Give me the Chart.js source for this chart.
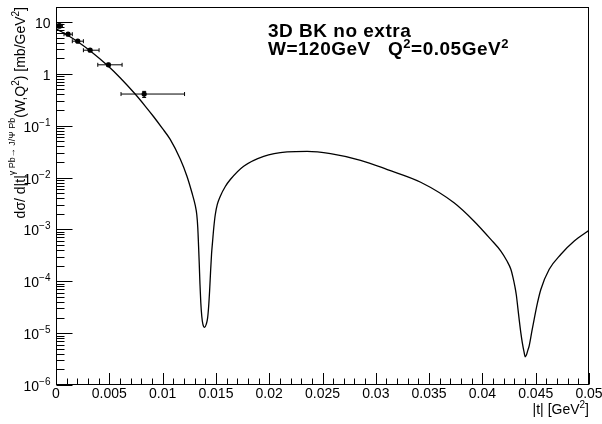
<!DOCTYPE html>
<html><head><meta charset="utf-8">
<script src="https://cdn.jsdelivr.net/npm/chart.js@4/dist/chart.umd.min.js"></script>
<style>html,body{margin:0;padding:0;background:#fff;overflow:hidden}canvas{display:block}</style>
</head><body>
<canvas id="c" width="602" height="424"></canvas>
<script>
// ---- data ----
const curveT = [0, 0.000564, 0.001128, 0.002039, 0.003195, 0.004915, 0.006015, 0.007425, 0.008365, 0.009145,
  0.009962, 0.010714, 0.011654, 0.012284, 0.012754, 0.013064, 0.013205, 0.013299, 0.013374, 0.01344,
  0.013506, 0.013581, 0.013675, 0.013778, 0.013938, 0.014098, 0.01422, 0.014314, 0.014408, 0.014502,
  0.014596, 0.01469, 0.014803, 0.014944, 0.015132, 0.015414, 0.015883, 0.016353, 0.017603, 0.019483,
  0.021682, 0.023562, 0.025752, 0.028571, 0.031081, 0.034211, 0.03734, 0.03922, 0.040789, 0.041729,
  0.042293, 0.042669, 0.042857, 0.043045, 0.043186, 0.043327, 0.043468, 0.043609, 0.04375, 0.043891,
  0.044013, 0.044126, 0.044267, 0.044389, 0.044643, 0.044859, 0.04516, 0.045489, 0.046269, 0.047368,
  0.048618, 0.05];
const curveV = [7.34, 6.38, 5.48, 4.16, 2.79, 1.394, 0.838, 0.407, 0.239, 0.1503,
  0.0895, 0.0543, 0.0227, 0.0106, 0.00508, 2.89e-3, 1.94e-3, 1.09e-3, 4.77e-4, 2.12e-4,
  8.76e-5, 3.95e-5, 2.12e-5, 1.49e-5, 1.29e-5, 1.49e-5, 1.94e-5, 3.16e-5, 6.42e-5, 1.56e-4,
  3.46e-4, 5.88e-4, 1.09e-3, 1.94e-3, 3.03e-3, 4.37e-3, 6.71e-3, 9.15e-3, 0.0165, 0.0257,
  0.0312, 0.0320, 0.0289, 0.0215, 0.01425, 0.00812, 0.00326, 0.00144, 6.42e-4, 3.82e-4,
  2.48e-4, 1.70e-4, 1.22e-4, 8.01e-5, 5.38e-5, 3.03e-5, 1.70e-5, 1.0e-5, 6.42e-6, 4.51e-6,
  3.49e-6, 3.77e-6, 4.71e-6, 5.70e-6, 1.09e-5, 1.86e-5, 3.78e-5, 7.02e-5, 1.70e-4, 3.31e-4,
  5.96e-4, 9.57e-4];

const dataT     = [0.00031, 0.00113, 0.00204, 0.0032, 0.00492, 0.00827];
const dataV     = [8.4, 5.8, 4.25, 2.85, 1.49, 0.407];
const dataTLow  = [0.00006, 0.00075, 0.00153, 0.00257, 0.00392, 0.0061];
const dataTHigh = [0.0006, 0.00153, 0.00257, 0.00404, 0.0062, 0.01206];
const dataVLow  = [7.6, 5.45, 4.0, 2.7, 1.40, 0.350];
const dataVHigh = [9.2, 6.2, 4.5, 3.0, 1.60, 0.458];

const xTickValues = [0, 0.005, 0.01, 0.015, 0.02, 0.025, 0.03, 0.035, 0.04, 0.045, 0.05];
const xTickLabels = ["0", "0.005", "0.01", "0.015", "0.02", "0.025", "0.03", "0.035", "0.04", "0.045", "0.05"];
const yDecades    = [1e-6, 1e-5, 1e-4, 1e-3, 1e-2, 1e-1, 1, 10];
const yTickBase   = ["10", "10", "10", "10", "10", "10", "1", "10"];
const yTickExp    = ["\u22126", "\u22125", "\u22124", "\u22123", "\u22122", "\u22121", "", ""];

const X_MIN = 0, X_MAX = 0.05, Y_MIN = 1e-6, Y_MAX = 19.4;

const FONT = "'Liberation Sans', Arial, Helvetica, sans-serif";

function runsWidth(ctx, runs) {
  let w = 0;
  for (const r of runs) { ctx.font = (r.bold ? 'bold ' : '') + r.size + 'px ' + FONT; w += ctx.measureText(r.t).width; }
  return w;
}
function drawRuns(ctx, runs, x, y) {
  let cx = x;
  for (const r of runs) {
    ctx.font = (r.bold ? 'bold ' : '') + r.size + 'px ' + FONT;
    ctx.fillText(r.t, cx, y - (r.dy || 0));
    cx += ctx.measureText(r.t).width;
  }
}

const rootAxes = {
  id: 'rootAxes',
  afterDatasetsDraw(chart) {
    const ctx = chart.ctx, ax = chart.scales.x, ay = chart.scales.y, ca = chart.chartArea;
    ctx.save();
    ctx.strokeStyle = '#000'; ctx.fillStyle = '#000'; ctx.lineWidth = 1;

    // error bars
    for (let i = 0; i < dataT.length; i++) {
      const px = ax.getPixelForValue(dataT[i]), py = ay.getPixelForValue(dataV[i]);
      const x1 = ax.getPixelForValue(dataTLow[i]), x2 = ax.getPixelForValue(dataTHigh[i]);
      const y1 = ay.getPixelForValue(dataVLow[i]), y2 = ay.getPixelForValue(dataVHigh[i]);
      ctx.beginPath();
      ctx.moveTo(x1, py); ctx.lineTo(x2, py);
      ctx.moveTo(x1, py - 2); ctx.lineTo(x1, py + 2);
      ctx.moveTo(x2, py - 2); ctx.lineTo(x2, py + 2);
      ctx.moveTo(px, y1); ctx.lineTo(px, y2);
      ctx.moveTo(px - 2, y1); ctx.lineTo(px + 2, y1);
      ctx.moveTo(px - 2, y2); ctx.lineTo(px + 2, y2);
      ctx.stroke();
    }

    // frame
    const L = Math.round(ca.left) + 0.5, R = Math.round(ca.right) - 0.5;
    const T = Math.round(ca.top) + 0.5, B = Math.round(ca.bottom) - 0.5;
    ctx.strokeRect(L, T, R - L, B - T);

    // x ticks (major + 4 minor subdivisions)
    ctx.beginPath();
    for (let i = 0; i < xTickValues.length; i++) {
      const p = Math.round(ax.getPixelForValue(xTickValues[i])) + 0.5;
      ctx.moveTo(p, B); ctx.lineTo(p, B - 11.5);
      if (i < xTickValues.length - 1) {
        const step = (xTickValues[i + 1] - xTickValues[i]) / 5;
        for (let k = 1; k < 5; k++) {
          const q = Math.round(ax.getPixelForValue(xTickValues[i] + k * step)) + 0.5;
          ctx.moveTo(q, B); ctx.lineTo(q, B - 6);
        }
      }
    }
    // y ticks (decades + minors 2..9)
    for (const d of yDecades) {
      const p = Math.round(ay.getPixelForValue(d)) + 0.5;
      ctx.moveTo(L, p); ctx.lineTo(L + 16, p);
      for (let k = 2; k <= 9; k++) {
        const v = d * k;
        if (v > Y_MAX) break;
        const q = Math.round(ay.getPixelForValue(v)) + 0.5;
        ctx.moveTo(L, q); ctx.lineTo(L + 8, q);
      }
    }
    ctx.stroke();

    // x tick labels
    ctx.textBaseline = 'alphabetic';
    ctx.font = '14px ' + FONT; ctx.textAlign = 'center';
    for (let i = 0; i < xTickValues.length; i++) {
      ctx.fillText(xTickLabels[i], ax.getPixelForValue(xTickValues[i]), 398);
    }
    // y tick labels
    ctx.textAlign = 'left';
    for (let i = 0; i < yDecades.length; i++) {
      const py = ay.getPixelForValue(yDecades[i]) + 6;
      const runs = [{ t: yTickBase[i], size: 14 }];
      if (yTickExp[i]) runs.push({ t: yTickExp[i], size: 10, dy: 6 });
      const w = runsWidth(ctx, runs);
      drawRuns(ctx, runs, 50.5 - w, py);
    }

    // x title
    const xt = [{ t: '|t| [GeV', size: 14 }, { t: '2', size: 10, dy: 6 }, { t: ']', size: 14 }];
    drawRuns(ctx, xt, 589 - runsWidth(ctx, xt), 414);

    // y title (rotated)
    const yt = [
      { t: 'd\u03c3/ d|t|', size: 14 },
      { t: '\u03b3 Pb\u2192 J/\u03a8 Pb', size: 9, dy: 10 },
      { t: '(W,Q', size: 14 }, { t: '2', size: 10, dy: 6 },
      { t: ') [mb/GeV', size: 14 }, { t: '2', size: 10, dy: 6 }, { t: ']', size: 14 }
    ];
    ctx.save();
    ctx.translate(25, 7);
    ctx.rotate(-Math.PI / 2);
    drawRuns(ctx, yt, -runsWidth(ctx, yt), 0);
    ctx.restore();

    // annotation text
    try { ctx.letterSpacing = '0.5px'; } catch (e) {}
    drawRuns(ctx, [{ t: '3D BK no extra', size: 19, bold: true }], 268, 37);
    drawRuns(ctx, [
      { t: 'W=120GeV   Q', size: 19, bold: true }, { t: '2', size: 13, bold: true, dy: 7 },
      { t: '=0.05GeV', size: 19, bold: true }, { t: '2', size: 13, bold: true, dy: 7 }
    ], 268, 55);
    try { ctx.letterSpacing = '0px'; } catch (e) {}
    ctx.restore();
  }
};

new Chart(document.getElementById('c'), {
  type: 'scatter',
  data: {
    datasets: [
      {
        label: 'curve',
        data: curveT.map((t, i) => ({ x: t, y: curveV[i] })),
        showLine: true, borderColor: '#000', borderWidth: 1.3,
        pointRadius: 0, cubicInterpolationMode: 'monotone', fill: false
      },
      {
        label: 'data',
        data: dataT.map((t, i) => ({ x: t, y: dataV[i] })),
        showLine: false, pointRadius: 2.6, pointBackgroundColor: '#000',
        pointBorderWidth: 0, borderColor: '#000'
      }
    ]
  },
  options: {
    responsive: false, animation: false, devicePixelRatio: 1,
    layout: { padding: { left: 56, right: 13, top: 7, bottom: 39 } },
    plugins: { legend: { display: false }, tooltip: { enabled: false } },
    scales: {
      x: { type: 'linear', min: X_MIN, max: X_MAX, display: false },
      y: { type: 'logarithmic', min: Y_MIN, max: Y_MAX, display: false }
    }
  },
  plugins: [rootAxes]
});
</script>
</body></html>
